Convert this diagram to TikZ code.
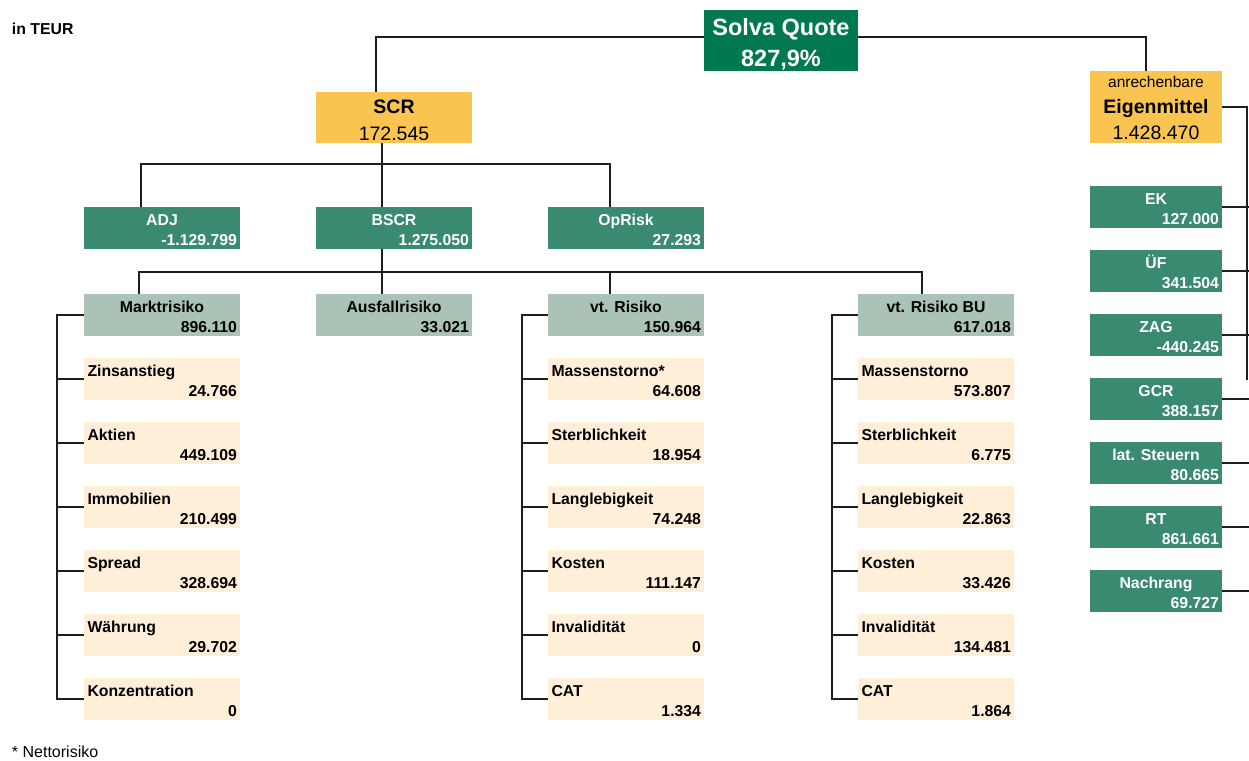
\documentclass[tikz,border=0pt]{standalone}
\usepackage{fontspec}
\setmainfont{Liberation Sans}
\definecolor{solva}{RGB}{0,120,80}
\definecolor{teal}{RGB}{58,137,113}
\definecolor{sage}{RGB}{170,195,182}
\definecolor{cream}{RGB}{255,239,217}
\definecolor{gold}{RGB}{249,197,80}
\definecolor{wire}{RGB}{30,30,30}

% box with centred title and right-aligned value
\newcommand\mkboxc[5]{%
  \node[box,fill=#3] (#1) at (#2) {};
  \node[lbl,anchor=base] (#1-t) at ([yshift=-18pt]#1.north) {#4};
  \node[lbl,anchor=base east] (#1-v) at ([shift={(-3pt,4pt)}]#1.south east) {#5};
}
% box with left-aligned title and right-aligned value
\newcommand\mkboxl[5]{%
  \node[box,fill=#3] (#1) at (#2) {};
  \node[lbl,anchor=base west] (#1-t) at ([shift={(3.5pt,-18pt)}]#1.north west) {#4};
  \node[lbl,anchor=base east] (#1-v) at ([shift={(-3pt,4pt)}]#1.south east) {#5};
}

\begin{document}
\begin{tikzpicture}[x=1pt,y=-1pt,
  box/.style={rectangle,inner sep=0pt,outer sep=0pt,minimum width=156pt,minimum height=42pt,anchor=north west},
  lbl/.style={inner sep=0pt,outer sep=0pt,font=\fontsize{15.8}{18}\selectfont\bfseries},
  conn/.style={draw=wire,line width=1.2pt},
  big/.style={inner sep=0pt,outer sep=0pt,font=\fontsize{19.5}{22}\selectfont},
]
\useasboundingbox (0,0) rectangle (1249,760);

\node[lbl,anchor=base west] (unit) at (12,35) {in TEUR};
\node[lbl,anchor=base west,font=\fontsize{16}{18}\selectfont] (note) at (12,757) {* Nettorisiko};

% top: ratio
\node[box,fill=solva,minimum width=154pt,minimum height=61pt] (solva) at (704,10) {};
\node[inner sep=0pt,anchor=base,text=white,font=\fontsize{23.5}{26}\selectfont\bfseries] (solva-t) at ([yshift=-25.7pt]solva.north) {Solva Quote};
\node[inner sep=0pt,anchor=base,text=white,font=\fontsize{23.5}{26}\selectfont\bfseries] (solva-v) at ([yshift=4.3pt]solva.south) {827,9\%};

% SCR
\node[box,fill=gold,minimum height=51pt] (scr) at (316,92) {};
\node[big,anchor=base,font=\fontsize{19.5}{22}\selectfont\bfseries] (scr-t) at ([yshift=-21pt]scr.north) {SCR};
\node[big,anchor=base] (scr-v) at ([yshift=3pt]scr.south) {172.545};

% own funds
\node[box,fill=gold,minimum width=132pt,minimum height=72pt] (em) at (1090,71) {};
\node[inner sep=0pt,anchor=base,font=\fontsize{15.5}{18}\selectfont] (em-a) at ([yshift=-16.3pt]em.north) {anrechenbare};
\node[big,anchor=base,font=\fontsize{19.5}{22}\selectfont\bfseries] (em-t) at ([yshift=-42.3pt]em.north) {Eigenmittel};
\node[big,anchor=base] (em-v) at ([yshift=3.7pt]em.south) {1.428.470};

% SCR components
\begin{scope}[lbl/.append style={text=white}]
\mkboxc{adj}{84,207}{teal}{ADJ}{-1.129.799}
\mkboxc{bscr}{316,207}{teal}{BSCR}{1.275.050}
\mkboxc{op}{548,207}{teal}{OpRisk}{27.293}
\end{scope}

% risk modules
\mkboxc{markt}{84,294}{sage}{Marktrisiko}{896.110}
\mkboxc{ausf}{316,294}{sage}{Ausfallrisiko}{33.021}
\mkboxc{vt}{548,294}{sage}{vt. Risiko}{150.964}
\mkboxc{vtbu}{858,294}{sage}{vt. Risiko BU}{617.018}

% sub-modules
\foreach \t/\v [count=\i from 0] in {Zinsanstieg/24.766,Aktien/449.109,Immobilien/210.499,Spread/328.694,Währung/29.702,Konzentration/0}
  {\mkboxl{m\i}{84,358+64*\i}{cream}{\t}{\v}}
\foreach \t/\v [count=\i from 0] in {Massenstorno*/64.608,Sterblichkeit/18.954,Langlebigkeit/74.248,Kosten/111.147,Invalidität/0,CAT/1.334}
  {\mkboxl{l\i}{548,358+64*\i}{cream}{\t}{\v}}
\foreach \t/\v [count=\i from 0] in {Massenstorno/573.807,Sterblichkeit/6.775,Langlebigkeit/22.863,Kosten/33.426,Invalidität/134.481,CAT/1.864}
  {\mkboxl{b\i}{858,358+64*\i}{cream}{\t}{\v}}

% own funds items
\begin{scope}[lbl/.append style={text=white},box/.append style={minimum width=132pt}]
\foreach \t/\v [count=\i from 0] in {EK/127.000,ÜF/341.504,ZAG/-440.245,GCR/388.157,lat. Steuern/80.665,RT/861.661,Nachrang/69.727}
  {\mkboxc{r\i}{1090,186+64*\i}{teal}{\t}{\v}}
\end{scope}

% connectors
\coordinate (j0) at (0,37);
\coordinate (j1) at (382,164);
\coordinate (j2) at (382,272);
\coordinate (mb) at (57,0);
\coordinate (lb) at (522,0);
\coordinate (bb) at (832,0);
\coordinate (rb) at (1247,0);
\coordinate (rend) at (1247,380);
\coordinate (edge) at (1249,0);

\draw[conn] (solva.west |- j0) -| ([xshift=-18pt]scr.north);
\draw[conn] (solva.east |- j0) -| ([xshift=-10pt]em.north);

\draw[conn] ([xshift=-12pt]scr.south) -- ([xshift=-12pt]bscr.north);
\draw[conn] ([xshift=-21pt]adj.north) |- (j1) -| ([xshift=-16pt]op.north);

\draw[conn] ([xshift=-12pt]bscr.south) -- ([xshift=-12pt]ausf.north);
\draw[conn] ([xshift=-23pt]markt.north) |- (j2) -| ([xshift=-14pt]vtbu.north);
\draw[conn] ([xshift=-16pt]vt.north) -- ([xshift=-16pt]vt.north |- j2);

\draw[conn] (markt.west) -- (markt.west -| mb) -- (m5.west -| mb) -- (m5.west);
\foreach \i in {0,...,4} \draw[conn] (m\i.west -| mb) -- (m\i.west);
\draw[conn] (vt.west) -- (vt.west -| lb) -- (l5.west -| lb) -- (l5.west);
\foreach \i in {0,...,4} \draw[conn] (l\i.west -| lb) -- (l\i.west);
\draw[conn] (vtbu.west) -- (vtbu.west -| bb) -- (b5.west -| bb) -- (b5.west);
\foreach \i in {0,...,4} \draw[conn] (b\i.west -| bb) -- (b\i.west);

\draw[conn] (em.east) -- (em.east -| rb) -- (rend);
\foreach \i in {0,...,6} \draw[conn] (r\i.east) -- (r\i.east -| edge);
\end{tikzpicture}
\end{document}
